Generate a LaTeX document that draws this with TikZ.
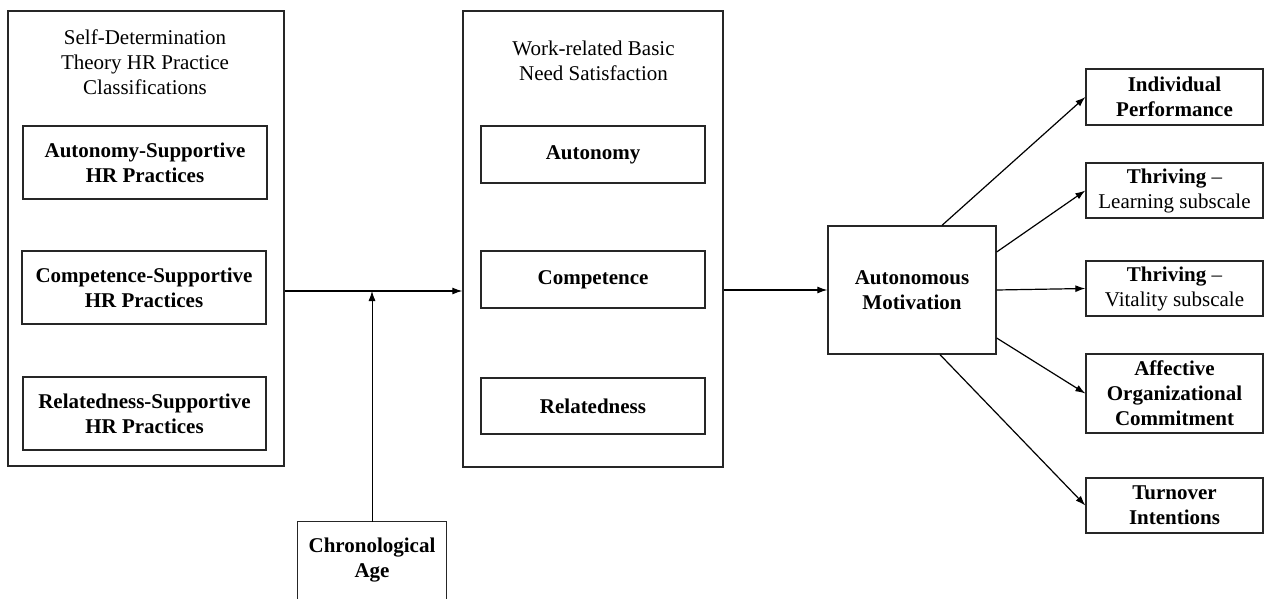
\documentclass[tikz,border=0pt]{standalone}
\usepackage{fontspec}
\setmainfont{Liberation Serif}[BoldFont={Liberation Serif Bold},ItalicFont={Liberation Serif Italic}]
\usetikzlibrary{arrows.meta}
\begin{document}
\begin{tikzpicture}[x=1pt,y=-1pt,
  every node/.style={font=\fontsize{21}{25}\selectfont, align=center, inner sep=0pt},
  frame/.style={draw=black!85, line width=1.3pt, rectangle},
  bx/.style={frame},
  conn/.style={draw=black, line width=1.2pt, -{Latex[length=10pt,width=7pt]}}]
\useasboundingbox (0,0) rectangle (1264,599);
% left group
\node[frame, minimum width=276pt, minimum height=455pt] (L) at (146,238.5) {};
\node (Lt) at (145,62) {Self-Determination\\Theory HR Practice\\Classifications};
\node[bx, minimum width=244pt, minimum height=73pt] (a1) at (145,162.5) {\textbf{Autonomy-Supportive}\\\textbf{HR Practices}};
\node[bx, minimum width=244pt, minimum height=73pt] (a2) at (144,287.5) {\textbf{Competence-Supportive}\\\textbf{HR Practices}};
\node[bx, minimum width=243pt, minimum height=73pt] (a3) at (144.5,413.5) {\textbf{Relatedness-Supportive}\\\textbf{HR Practices}};
% middle group
\node[frame, minimum width=260pt, minimum height=456pt] (M) at (593,239) {};
\node (Mt) at (593.5,60.5) {Work-related Basic\\Need Satisfaction};
\node[bx, minimum width=224pt, minimum height=57pt] (b1) at (593,154.5) {\textbf{Autonomy}};
\node[bx, minimum width=224pt, minimum height=57pt] (b2) at (593,279.5) {\textbf{Competence}};
\node[bx, minimum width=224pt, minimum height=56pt] (b3) at (593,406) {\textbf{Relatedness}};
% chronological age (cut at bottom)
\node[minimum width=148pt, minimum height=77pt] (ca) at (372,560.5) {\textbf{Chronological}\\\textbf{Age}};
\draw[draw=black!85, line width=1.3pt] (ca.south west) -- (ca.north west) -- (ca.north east) -- (ca.south east);
% autonomous motivation
\node[bx, minimum width=168pt, minimum height=128pt] (am) at (912,290) {\textbf{Autonomous}\\\textbf{Motivation}};
% outcomes
\node[bx, minimum width=177pt, minimum height=56pt] (r1) at (1174.5,97) {\textbf{Individual}\\\textbf{Performance}};
\node[bx, minimum width=177pt, minimum height=55pt] (r2) at (1174.5,190.5) {\textbf{Thriving} –\\Learning subscale};
\node[bx, minimum width=177pt, minimum height=55pt] (r3) at (1174.5,288.5) {\textbf{Thriving} –\\Vitality subscale};
\node[bx, minimum width=177pt, minimum height=79pt] (r4) at (1174.5,393.5) {\textbf{Affective}\\\textbf{Organizational}\\\textbf{Commitment}};
\node[bx, minimum width=177pt, minimum height=55pt] (r5) at (1174.5,505.5) {\textbf{Turnover}\\\textbf{Intentions}};
% connectors
\coordinate (j) at (372,291);
\draw[conn] (L.east |- j) -- (M.west |- j);
\draw[conn, line width=0.9pt] (ca.north) -- (j);
\draw[conn] (M.east |- am.west) -- (am.west);
\draw[conn] ([xshift=30pt]am.north) -- (r1.west);
\draw[conn] ([yshift=38pt]am.east) -- (r2.west);
\draw[conn] (am.east) -- (r3.west);
\draw[conn] ([yshift=-48pt]am.east) -- (r4.west);
\draw[conn] ([xshift=28pt]am.south) -- (r5.west);
\end{tikzpicture}
\end{document}
